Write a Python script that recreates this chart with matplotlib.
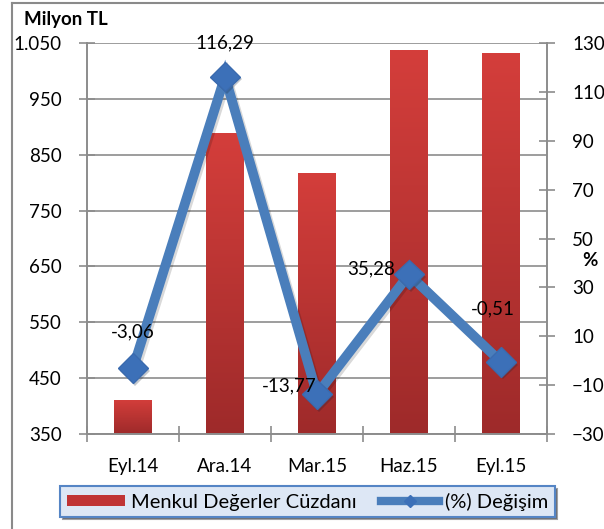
import numpy as np
import matplotlib
matplotlib.use("Agg")
import matplotlib.pyplot as plt
import matplotlib.patheffects as pe
from matplotlib.patches import Rectangle
from matplotlib.lines import Line2D

plt.rcParams['font.family'] = ['Lato', 'DejaVu Sans']

# ----- Data -----
periods = ["Eyl.14", "Ara.14", "Mar.15", "Haz.15", "Eyl.15"]
portfolio = [411, 888, 818, 1037, 1032]          # Milyon TL
change_pct = [-3.06, 116.29, -13.77, 35.28, -0.51]
change_labels = ["-3,06", "116,29", "-13,77", "35,28", "-0,51"]
label_offsets = [(0, 26), (0, 24), (-20, 6), (-27, 4), (-6, 38)]  # points

left_ticks = [350, 450, 550, 650, 750, 850, 950, 1050]
left_ticklabels = ["350", "450", "550", "650", "750", "850", "950", "1.050"]
right_ticks = [-30, -10, 10, 30, 50, 70, 90, 110, 130]

bar_top = "#D43E3B"
bar_bottom = "#9E2A2A"
line_color = "#4A7EBB"
marker_color = "#3C70B8"
grid_color = "#8C8C8C"
fs = 13.5

fig = plt.figure(figsize=(6.04, 5.29), dpi=100)
ax = fig.add_axes([87 / 604, 1 - 434 / 529, 460 / 604, 391 / 529])
ax2 = ax.twinx()

# outer chart frame (only top and left edges fall inside the image)
fig.add_artist(Line2D([12 / 604, 1], [1 - 3 / 529, 1 - 3 / 529], color="#8A8A8A", lw=1.5))
fig.add_artist(Line2D([12 / 604, 12 / 604], [0, 1 - 3 / 529], color="#8A8A8A", lw=1.5))

x = np.arange(len(periods))
width = 0.41

# bars with vertical gradient
grad = np.linspace(0, 1, 256).reshape(-1, 1)
cmap = matplotlib.colors.LinearSegmentedColormap.from_list("bar", [bar_bottom, bar_top])
bars = ax.bar(x, portfolio, width, bottom=0, color="none", zorder=2)
for xi, val in zip(x, portfolio):
    im = ax.imshow(grad, cmap=cmap, origin="lower", aspect="auto",
                   extent=[xi - width / 2, xi + width / 2, 350, val], zorder=2)
    clip = Rectangle((xi - width / 2, 350), width, val - 350, transform=ax.transData)
    im.set_clip_path(clip)

ax.set_xlim(-0.5, len(periods) - 0.5)
ax.set_ylim(350, 1050)
ax.set_yticks(left_ticks)
ax.set_yticklabels(left_ticklabels)
ax.yaxis.grid(True, color=grid_color, lw=1.2, zorder=0)
ax.set_axisbelow(True)

ax.set_xticks(x)
ax.set_xticklabels(periods)
ax.set_xticks(np.arange(-0.5, len(periods)), minor=True)
ax.tick_params(axis="x", which="major", length=0, pad=17, labelsize=fs)
ax.tick_params(axis="x", which="minor", length=12, direction="inout", color=grid_color, width=1.2)
ax.tick_params(axis="y", length=12, direction="inout", color=grid_color, width=1.2,
               pad=12, labelsize=fs)

for a in (ax, ax2):
    for side in ("left", "right", "bottom"):
        a.spines[side].set_color(grid_color)
        a.spines[side].set_linewidth(1.2)
    a.spines["top"].set_visible(False)

# percent change line
ax2.plot(x, change_pct, color=line_color, lw=7, solid_joinstyle="miter", zorder=3,
         path_effects=[pe.SimpleLineShadow(offset=(1.5, -1.5), alpha=0.15), pe.Normal()])
ax2.plot(x, change_pct, linestyle="none", marker="D", ms=15, color=marker_color,
         markeredgecolor="#3A6AAE", zorder=4,
         path_effects=[pe.SimplePatchShadow(offset=(1.5, -2), alpha=0.25), pe.Normal()])
for xi, yi, txt, off in zip(x, change_pct, change_labels, label_offsets):
    ax2.annotate(txt, (xi, yi), xytext=off, textcoords="offset points",
                 ha="center", va="center", fontsize=fs, zorder=5)

ax2.set_ylim(-30, 130)
ax2.set_yticks(right_ticks)
ax2.tick_params(axis="y", length=12, direction="inout", color=grid_color, width=1.2,
                pad=12, labelsize=fs)

fig.text(24 / 604, 1 - 20 / 529, "Milyon TL", fontsize=fs, fontweight="bold", va="center")
fig.text(590 / 604, 1 - 260 / 529, "%", fontsize=fs, fontweight="bold", ha="center", va="center")

# legend
handles = [Rectangle((0, 0), 1, 1, facecolor="#C03434", edgecolor="none"),
           Line2D([], [], color=line_color, lw=6, marker="D", ms=6,
                  markerfacecolor=marker_color, markeredgecolor=marker_color)]
leg = fig.legend(handles, ["Menkul Değerler Cüzdanı", "(%) Değişim"], ncol=2,
                 loc="center", bbox_to_anchor=(63 / 604, 1 - 519 / 529, 489 / 604, 35 / 529),
                 frameon=True, fancybox=False, shadow=True, fontsize=14.5,
                 handlelength=2.9, handleheight=0.5, columnspacing=1.2, handletextpad=0.3,
                 borderpad=0.3)
frame = leg.get_frame()
frame.set_facecolor("#DDE7F5")
frame.set_edgecolor("#5585C5")
frame.set_linewidth(1.5)

fig.savefig("out.png", dpi=100)
